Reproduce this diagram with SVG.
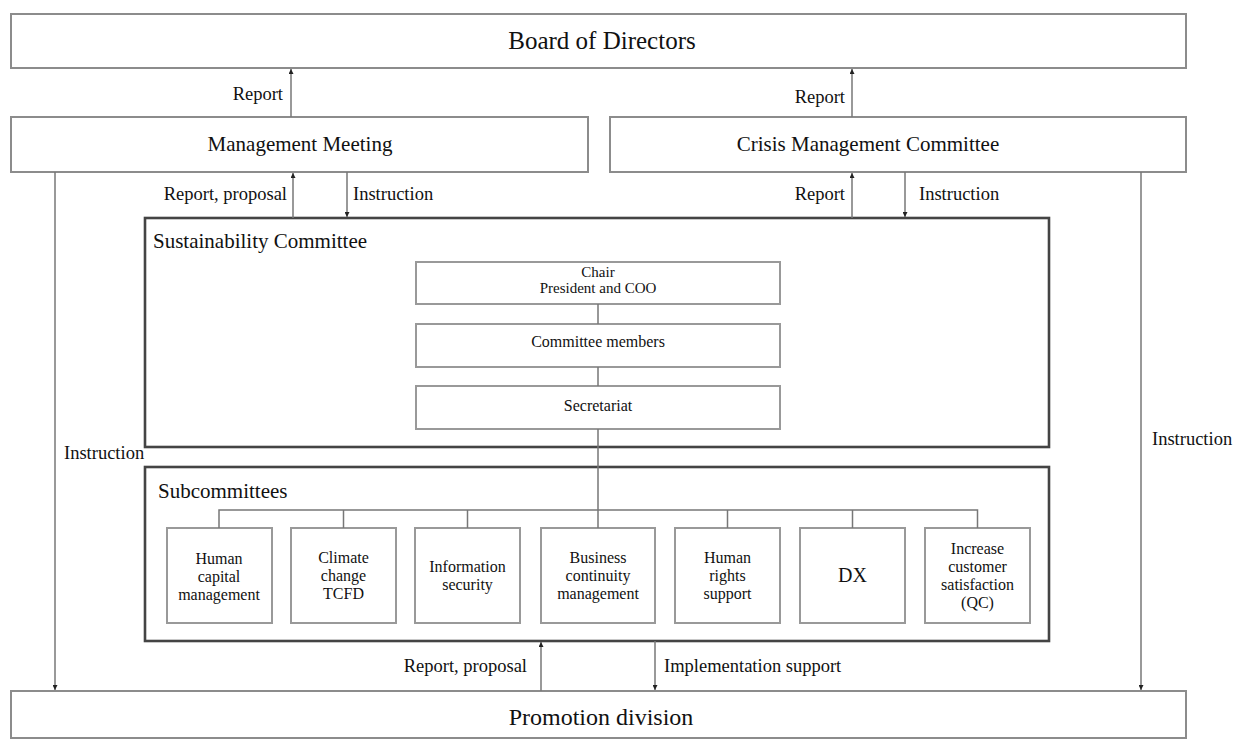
<svg xmlns="http://www.w3.org/2000/svg" width="1233" height="740" viewBox="0 0 1233 740" font-family="'Liberation Serif', 'DejaVu Serif', serif">
<style>
text{font-family:"Liberation Serif","DejaVu Serif",serif;fill:#111}
.box{fill:#fff;stroke:#8c8c8c;stroke-width:2}
.thick{fill:#fff;stroke:#444;stroke-width:2.6}
.ibox{fill:#fff;stroke:#999;stroke-width:2}
.big{font-size:24px;text-anchor:middle}
.mid{font-size:21px;text-anchor:middle}
.title{font-size:21px}
.lbl{font-size:18.5px}
.end{text-anchor:end}
.sm{font-size:16px;text-anchor:middle}
.xs{font-size:15px;text-anchor:middle}
.ln{fill:none;stroke:#777;stroke-width:1.5}
</style>
<defs>
<marker id="ah" viewBox="0 0 10 10" refX="10" refY="5" markerWidth="5" markerHeight="5" markerUnits="userSpaceOnUse" orient="auto">
<path d="M0,0 L10,5 L0,10 z" fill="#222"/>
</marker>
</defs>

<g id="board"><rect class="box" x="11" y="14" width="1175" height="54"/><text class="big" x="602" y="49" style="font-size:25px">Board of Directors</text></g>
<g id="mgmt"><rect class="box" x="11" y="117" width="577" height="55"/><text class="mid" x="300" y="151">Management Meeting</text></g>
<g id="crisis"><rect class="box" x="610" y="117" width="576" height="55"/><text class="mid" x="868" y="151">Crisis Management Committee</text></g>

<g id="sustainability">
<rect class="thick" x="145" y="218" width="904" height="229"/>
<text class="title" x="153" y="248">Sustainability Committee</text>
</g>
<g id="chair"><rect class="ibox" x="416" y="262" width="364" height="42"/><text class="xs" x="598" y="277">Chair</text><text class="xs" x="598" y="293">President and COO</text></g>
<g id="members"><rect class="ibox" x="416" y="324" width="364" height="43"/><text class="sm" x="598" y="347">Committee members</text></g>
<g id="secretariat"><rect class="ibox" x="416" y="386" width="364" height="43"/><text class="sm" x="598" y="411">Secretariat</text></g>

<g id="subcommittees">
<rect class="thick" x="145" y="467" width="904" height="174"/>
<text class="title" x="158" y="498">Subcommittees</text>
</g>
<g id="sub1"><rect class="ibox" x="167" y="528" width="105" height="95"/><text class="sm" x="219" y="564">Human</text><text class="sm" x="219" y="582">capital</text><text class="sm" x="219" y="600">management</text></g>
<g id="sub2"><rect class="ibox" x="291" y="528" width="105" height="95"/><text class="sm" x="343.5" y="563">Climate</text><text class="sm" x="343.5" y="581">change</text><text class="sm" x="343.5" y="599">TCFD</text></g>
<g id="sub3"><rect class="ibox" x="415" y="528" width="105" height="95"/><text class="sm" x="467.5" y="572">Information</text><text class="sm" x="467.5" y="590">security</text></g>
<g id="sub4"><rect class="ibox" x="541" y="528" width="114" height="95"/><text class="sm" x="598" y="563">Business</text><text class="sm" x="598" y="581">continuity</text><text class="sm" x="598" y="599">management</text></g>
<g id="sub5"><rect class="ibox" x="675" y="528" width="105" height="95"/><text class="sm" x="727.5" y="563">Human</text><text class="sm" x="727.5" y="581">rights</text><text class="sm" x="727.5" y="599">support</text></g>
<g id="sub6"><rect class="ibox" x="800" y="528" width="105" height="95"/><text class="sm" x="852.5" y="582" style="font-size:20px">DX</text></g>
<g id="sub7"><rect class="ibox" x="925" y="528" width="105" height="95"/><text class="sm" x="977.5" y="554">Increase</text><text class="sm" x="977.5" y="572">customer</text><text class="sm" x="977.5" y="590">satisfaction</text><text class="sm" x="977.5" y="608">(QC)</text></g>

<g id="promotion"><rect class="box" x="11" y="691" width="1175" height="47"/><text class="big" x="601" y="725">Promotion division</text></g>

<g id="connectors">
<path class="ln" d="M291,117 V69" marker-end="url(#ah)"/>
<path class="ln" d="M852,117 V69" marker-end="url(#ah)"/>
<path class="ln" d="M293,218 V173" marker-end="url(#ah)"/>
<path class="ln" d="M347,172 V217" marker-end="url(#ah)"/>
<path class="ln" d="M852,218 V173" marker-end="url(#ah)"/>
<path class="ln" d="M905,172 V217" marker-end="url(#ah)"/>
<path class="ln" d="M55,172 V690" marker-end="url(#ah)"/>
<path class="ln" d="M1141,172 V690" marker-end="url(#ah)"/>
<path class="ln" d="M541,691 V642" marker-end="url(#ah)"/>
<path class="ln" d="M655,641 V690" marker-end="url(#ah)"/>
<path class="ln" d="M598,304 V324 M598,367 V386 M598,429 V528"/>
<path class="ln" d="M219,528 V510 H977.5 V528 M343.5,510 V528 M467.5,510 V528 M727.5,510 V528 M852.5,510 V528"/>
</g>

<g id="labels">
<text class="lbl end" x="283" y="100">Report</text>
<text class="lbl end" x="845" y="103">Report</text>
<text class="lbl end" x="287" y="200">Report, proposal</text>
<text class="lbl" x="353" y="200">Instruction</text>
<text class="lbl end" x="845" y="200">Report</text>
<text class="lbl" x="919" y="200">Instruction</text>
<text class="lbl" x="64" y="459">Instruction</text>
<text class="lbl" x="1152" y="445">Instruction</text>
<text class="lbl end" x="527" y="672">Report, proposal</text>
<text class="lbl" x="664" y="672">Implementation support</text>
</g>
</svg>
